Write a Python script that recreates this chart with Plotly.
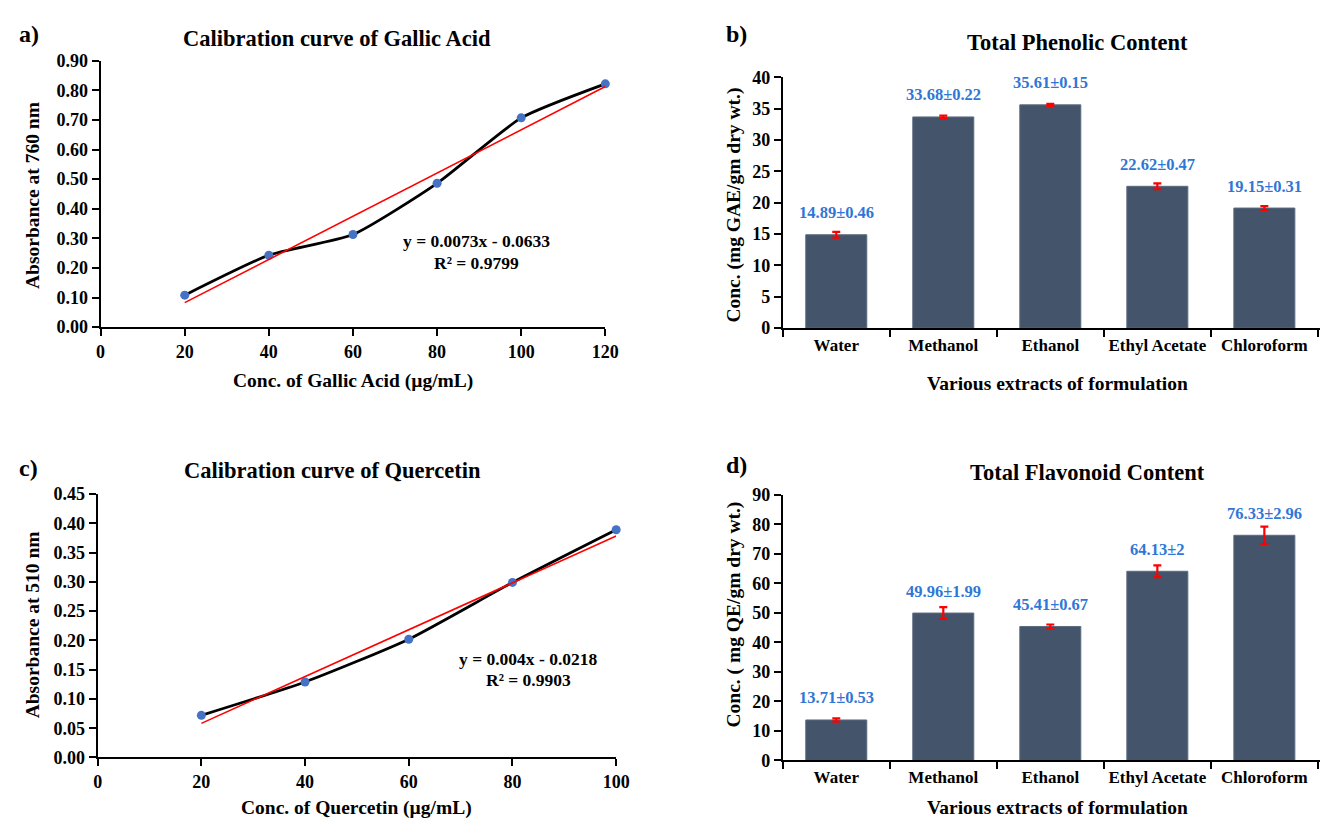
import plotly.graph_objects as go

# ---------------- data ----------------
gallic_conc = [20, 40, 60, 80, 100, 120]
gallic_abs = [0.108, 0.243, 0.313, 0.486, 0.707, 0.822]
gallic_slope = 0.0073
gallic_intercept = -0.0633
gallic_r2 = 0.9799

quercetin_conc = [20, 40, 60, 80, 100]
quercetin_abs = [0.072, 0.129, 0.202, 0.299, 0.389]
quercetin_slope = 0.004
quercetin_intercept = -0.0218
quercetin_r2 = 0.9903

extracts = ["Water", "Methanol", "Ethanol", "Ethyl Acetate", "Chloroform"]
tpc_mean = [14.89, 33.68, 35.61, 22.62, 19.15]
tpc_sd = [0.46, 0.22, 0.15, 0.47, 0.31]
tfc_mean = [13.71, 49.96, 45.41, 64.13, 76.33]
tfc_sd = [0.53, 1.99, 0.67, 2.00, 2.96]

# ---------------- styling ----------------
W, H = 1334, 827
FONT = "Liberation Serif"
BAR = "#44546A"
BLUE_TXT = "#2F77D6"
MARK = "#4472C4"


def px(x):
    return x / W


def py(y):
    return 1 - y / H


fig = go.Figure()

# Panel a
trend_a = [gallic_slope * c + gallic_intercept for c in gallic_conc]
fig.add_trace(go.Scatter(x=gallic_conc, y=gallic_abs, mode="lines+markers",
                         line=dict(color="black", width=2.8, shape="spline", smoothing=0.55),
                         marker=dict(color=MARK, size=9), cliponaxis=False,
                         xaxis="x", yaxis="y", showlegend=False))
fig.add_trace(go.Scatter(x=gallic_conc, y=trend_a, mode="lines",
                         line=dict(color="#FF0000", width=1.6), cliponaxis=False,
                         xaxis="x", yaxis="y", showlegend=False))

# Panel c
trend_c = [quercetin_slope * c + quercetin_intercept for c in quercetin_conc]
fig.add_trace(go.Scatter(x=quercetin_conc, y=quercetin_abs, mode="lines+markers",
                         line=dict(color="black", width=2.8, shape="spline", smoothing=0.55),
                         marker=dict(color=MARK, size=9), cliponaxis=False,
                         xaxis="x3", yaxis="y3", showlegend=False))
fig.add_trace(go.Scatter(x=quercetin_conc, y=trend_c, mode="lines",
                         line=dict(color="#FF0000", width=1.6), cliponaxis=False,
                         xaxis="x3", yaxis="y3", showlegend=False))

# Panel b and d bars
for xa, ya, mean, sd in [("x2", "y2", tpc_mean, tpc_sd), ("x4", "y4", tfc_mean, tfc_sd)]:
    fig.add_trace(go.Bar(x=extracts, y=mean, width=0.57,
                         marker=dict(color=BAR, line=dict(color="#5B6B80", width=1)),
                         error_y=dict(type="data", array=sd, visible=True,
                                      color="#FF0000", thickness=2.2, width=4),
                         xaxis=xa, yaxis=ya, showlegend=False))

tick_font = dict(family=FONT, size=18, color="black", weight="bold")
cat_font = dict(family=FONT, size=17, color="black", weight="bold")
axis_common = dict(showline=True, linecolor="black", linewidth=2, ticks="outside",
                   ticklen=7, tickwidth=2, tickcolor="black", showgrid=False,
                   zeroline=False, fixedrange=True)

layout = dict(
    width=W, height=H, margin=dict(l=0, r=0, t=0, b=0),
    paper_bgcolor="white", plot_bgcolor="white",
    xaxis=dict(domain=[px(97), px(609)], range=[0, 120], tickvals=[0, 20, 40, 60, 80, 100, 120],
               anchor="y", tickangle=0, tickfont=tick_font, **axis_common),
    yaxis=dict(domain=[py(325), py(52)], range=[0, 0.9], dtick=0.1, tickformat=".2f",
               anchor="x", tickfont=tick_font, **axis_common),
    xaxis2=dict(domain=[px(789), 1.0], range=[-0.5, 4.52], type="category",
                tickson="boundaries", anchor="y2", tickangle=0, tickfont=cat_font, **axis_common),
    yaxis2=dict(domain=[py(326), py(69)], range=[0, 40], dtick=5, anchor="x2",
                tickfont=tick_font, **axis_common),
    xaxis3=dict(domain=[px(94), px(620)], range=[0, 100], tickvals=[0, 20, 40, 60, 80, 100],
                anchor="y3", tickangle=0, tickfont=tick_font, **axis_common),
    yaxis3=dict(domain=[py(766), py(496)], range=[0, 0.45], dtick=0.05, tickformat=".2f",
                anchor="x3", tickfont=tick_font, **axis_common),
    xaxis4=dict(domain=[px(789), 1.0], range=[-0.5, 4.52], type="category",
                tickson="boundaries", anchor="y4", tickangle=0, tickfont=cat_font, **axis_common),
    yaxis4=dict(domain=[py(769), py(497)], range=[0, 90], dtick=10, anchor="x4",
                tickfont=tick_font, **axis_common),
)
fig.update_layout(**layout)

ann = []


def text(x, y, s, size, angle=0, color="black", xanchor="center"):
    ann.append(dict(x=px(x), y=py(y), xref="paper", yref="paper", text=s, showarrow=False,
                    xanchor=xanchor, yanchor="middle", textangle=angle,
                    font=dict(family=FONT, size=size, color=color, weight="bold")))


# panel letters
text(12, 25, "a)", 24, xanchor="left")
text(729, 25, "b)", 24, xanchor="left")
text(12, 469, "c)", 24, xanchor="left")
text(729, 466, "d)", 24, xanchor="left")

# titles
text(337, 29, "Calibration curve of Gallic Acid", 22.5)
text(1088, 33, "Total Phenolic Content", 22.5)
text(332, 472, "Calibration curve of Quercetin", 22.5)
text(1098, 474, "Total Flavonoid Content", 22.5)

# axis titles
text(353, 380, "Conc. of Gallic Acid (µg/mL)", 19.5)
text(28, 190, "Absorbance at 760 nm", 19.5, angle=-90)
text(1068, 383, "Various extracts of formulation", 19.5)
text(740, 200, "Conc. (mg GAE/gm dry wt.)", 19.5, angle=-90)
text(357, 818, "Conc. of Quercetin (µg/mL)", 19.5)
text(28, 630, "Absorbance at 510 nm", 19.5, angle=-90)
text(1068, 817, "Various extracts of formulation", 19.5)
text(740, 619, "Conc. ( mg QE/gm dry wt.)", 19.5, angle=-90)

fig.update_layout(annotations=ann)

# equations
eq_font = dict(family=FONT, size=17.5, color="black", weight="bold")
fig.add_annotation(x=89.3, y=0.29, xref="x", yref="y", showarrow=False,
                   text=f"y = {gallic_slope}x - {abs(gallic_intercept)}", font=eq_font)
fig.add_annotation(x=89.3, y=0.218, xref="x", yref="y", showarrow=False,
                   text=f"R² = {gallic_r2}", font=eq_font)
fig.add_annotation(x=83, y=0.168, xref="x3", yref="y3", showarrow=False,
                   text=f"y = {quercetin_slope}x - {abs(quercetin_intercept)}", font=eq_font)
fig.add_annotation(x=83, y=0.132, xref="x3", yref="y3", showarrow=False,
                   text=f"R² = {quercetin_r2}", font=eq_font)

# value labels
for xa, ya, mean, sd in [("x2", "y2", tpc_mean, tpc_sd), ("x4", "y4", tfc_mean, tfc_sd)]:
    for cat, m, s in zip(extracts, mean, sd):
        fig.add_annotation(x=cat, y=m, xref=xa, yref=ya, showarrow=False, yshift=22,
                           text=f"{m:g}±{s:g}",
                           font=dict(family=FONT, size=16.5, color=BLUE_TXT, weight="bold"))

fig.write_html("out.html", config={"displayModeBar": False},
               post_script="document.body.style.margin='0';")
